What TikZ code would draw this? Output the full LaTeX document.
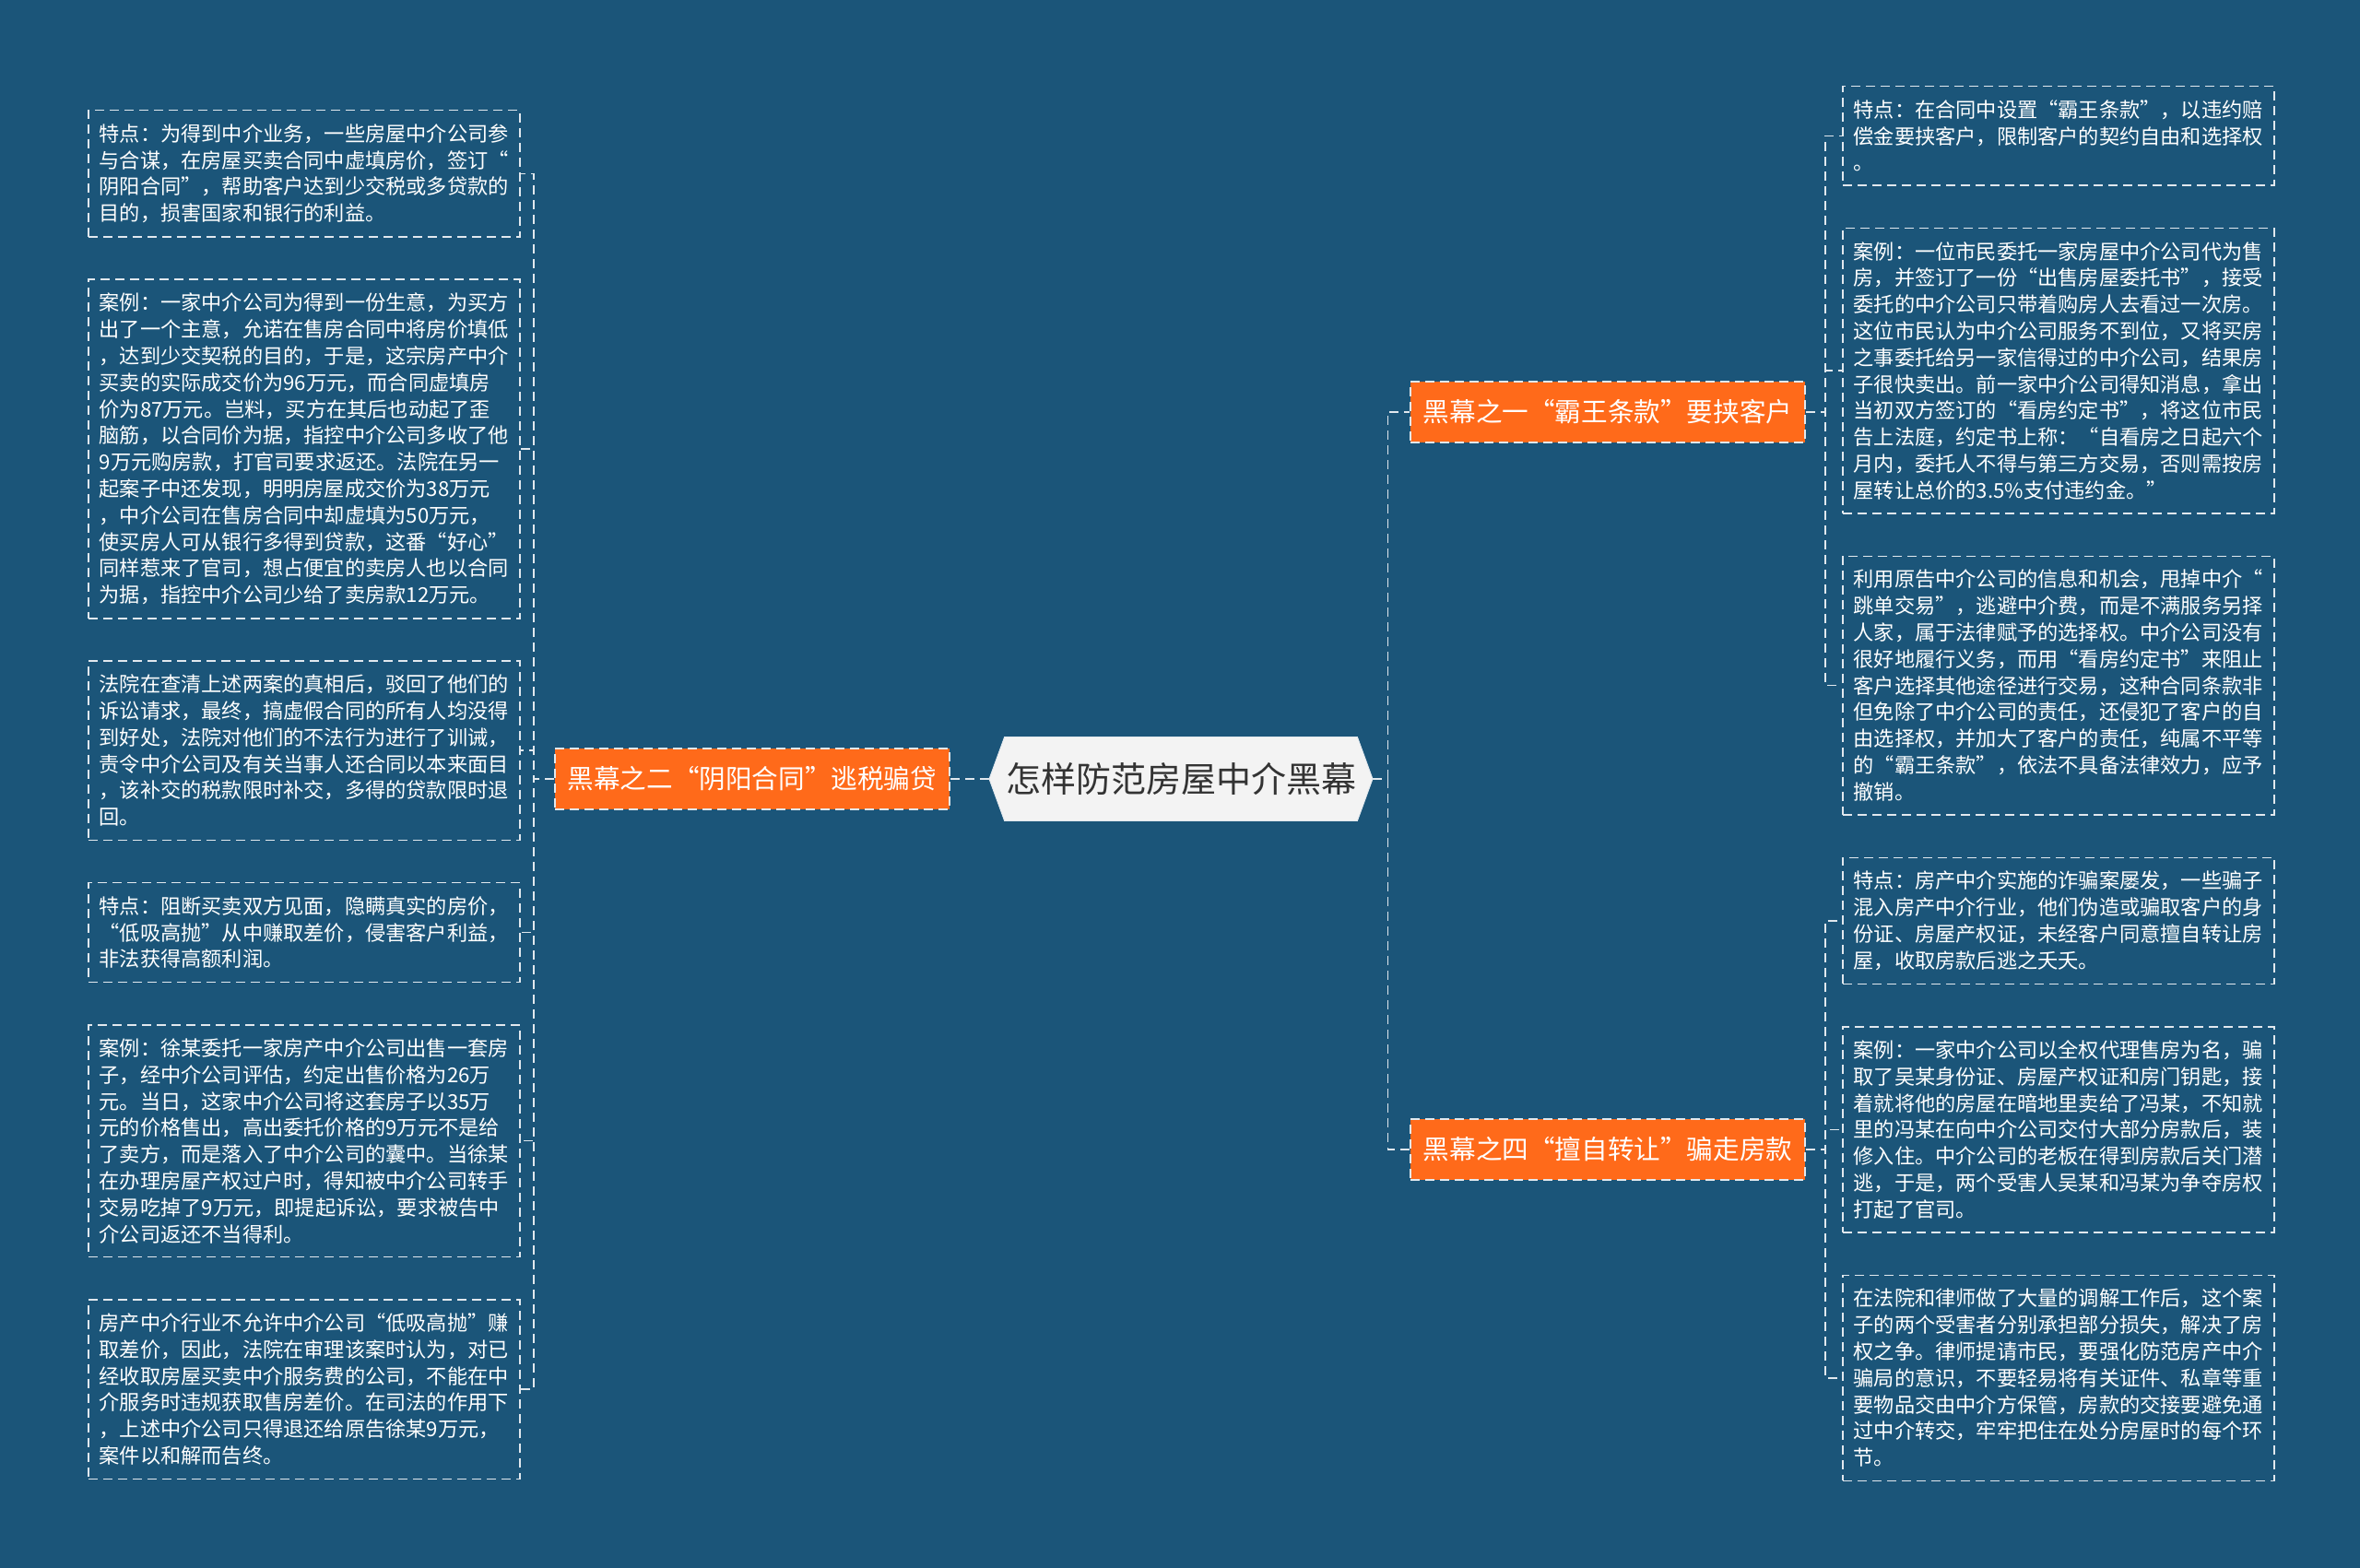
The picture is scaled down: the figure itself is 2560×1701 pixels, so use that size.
\documentclass[tikz,border=0pt]{standalone}
\usepackage{fontspec}
\setmainfont{Noto Sans CJK SC}
\usetikzlibrary{positioning, shapes.symbols}
\definecolor{MapBack}{RGB}{27, 85, 121}
\definecolor{MapOrange}{RGB}{255, 106, 26}
\definecolor{MapRoot}{RGB}{243, 243, 243}
\definecolor{MapInk}{RGB}{51, 51, 51}
\definecolor{MapLine}{RGB}{225, 232, 238}

\begin{document}
\begin{tikzpicture}[
        x=0.5pt, y=-0.5pt,
        node distance=22.4pt and 20pt,
        root/.style={signal, signal to=east and west, signal pointer angle=140, draw=MapLine, fill=MapRoot, minimum width=208pt, minimum height=45.5pt, inner sep=0pt, text=MapInk, font=\fontsize{19}{22}\selectfont},
        branch/.style={rectangle, draw=MapLine, dash pattern=on 5pt off 3pt, line width=0.75pt, fill=MapOrange, minimum width=214pt, minimum height=33pt, inner sep=0pt, text=white, font=\fontsize{14.3}{17}\selectfont},
        leaf/.style={rectangle, draw=MapLine, dash pattern=on 5pt off 3pt, line width=0.75pt, text width=222pt, inner xsep=6pt, inner ysep=7.4pt, align=left, text=white, font=\fontsize{11.1}{14.4}\selectfont},
        link/.style={draw=MapLine, dash pattern=on 5pt off 3pt, line width=0.75pt}
    ]

        % Background
        \fill[MapBack] (0,0) rectangle (2560,1701);
        \useasboundingbox (0,0) rectangle (2560,1701);

        % Nodes
        \node[root] (root) at (1281,845) {怎样防范房屋中介黑幕};
        \node[branch, left=21pt of root] (lb) {黑幕之二“阴阳合同”逃税骗贷};
        \node[branch] (b1) at (1744,447) {黑幕之一“霸王条款”要挟客户};
        \node[branch] (b2) at (1744,1247) {黑幕之四“擅自转让”骗走房款};

        % Left leaves
        \node[leaf, anchor=north west] (l1) at (95,119) {特点：为得到中介业务，一些房屋中介公司参\\与合谋，在房屋买卖合同中虚填房价，签订“\\阴阳合同”，帮助客户达到少交税或多贷款的\\目的，损害国家和银行的利益。};
        \node[leaf, below=of l1] (l2) {案例：一家中介公司为得到一份生意，为买方\\出了一个主意，允诺在售房合同中将房价填低\\，达到少交契税的目的，于是，这宗房产中介\\买卖的实际成交价为96万元，而合同虚填房\\价为87万元。岂料，买方在其后也动起了歪\\脑筋，以合同价为据，指控中介公司多收了他\\9万元购房款，打官司要求返还。法院在另一\\起案子中还发现，明明房屋成交价为38万元\\，中介公司在售房合同中却虚填为50万元，\\使买房人可从银行多得到贷款，这番“好心”\\同样惹来了官司，想占便宜的卖房人也以合同\\为据，指控中介公司少给了卖房款12万元。};
        \node[leaf, below=of l2] (l3) {法院在查清上述两案的真相后，驳回了他们的\\诉讼请求，最终，搞虚假合同的所有人均没得\\到好处，法院对他们的不法行为进行了训诫，\\责令中介公司及有关当事人还合同以本来面目\\，该补交的税款限时补交，多得的贷款限时退\\回。};
        \node[leaf, below=of l3] (l4) {特点：阻断买卖双方见面，隐瞒真实的房价，\\“低吸高抛”从中赚取差价，侵害客户利益，\\非法获得高额利润。};
        \node[leaf, below=of l4] (l5) {案例：徐某委托一家房产中介公司出售一套房\\子，经中介公司评估，约定出售价格为26万\\元。当日，这家中介公司将这套房子以35万\\元的价格售出，高出委托价格的9万元不是给\\了卖方，而是落入了中介公司的囊中。当徐某\\在办理房屋产权过户时，得知被中介公司转手\\交易吃掉了9万元，即提起诉讼，要求被告中\\介公司返还不当得利。};
        \node[leaf, below=of l5] (l6) {房产中介行业不允许中介公司“低吸高抛”赚\\取差价，因此，法院在审理该案时认为，对已\\经收取房屋买卖中介服务费的公司，不能在中\\介服务时违规获取售房差价。在司法的作用下\\，上述中介公司只得退还给原告徐某9万元，\\案件以和解而告终。};

        % Right leaves
        \node[leaf, anchor=north west] (r1) at (1998,93) {特点：在合同中设置“霸王条款”，以违约赔\\偿金要挟客户，限制客户的契约自由和选择权\\。};
        \node[leaf, below=of r1] (r2) {案例：一位市民委托一家房屋中介公司代为售\\房，并签订了一份“出售房屋委托书”，接受\\委托的中介公司只带着购房人去看过一次房。\\这位市民认为中介公司服务不到位，又将买房\\之事委托给另一家信得过的中介公司，结果房\\子很快卖出。前一家中介公司得知消息，拿出\\当初双方签订的“看房约定书”，将这位市民\\告上法庭，约定书上称：“自看房之日起六个\\月内，委托人不得与第三方交易，否则需按房\\屋转让总价的3.5\%支付违约金。”};
        \node[leaf, below=of r2] (r3) {利用原告中介公司的信息和机会，甩掉中介“\\跳单交易”，逃避中介费，而是不满服务另择\\人家，属于法律赋予的选择权。中介公司没有\\很好地履行义务，而用“看房约定书”来阻止\\客户选择其他途径进行交易，这种合同条款非\\但免除了中介公司的责任，还侵犯了客户的自\\由选择权，并加大了客户的责任，纯属不平等\\的“霸王条款”，依法不具备法律效力，应予\\撤销。};
        \node[leaf, below=of r3] (r4) {特点：房产中介实施的诈骗案屡发，一些骗子\\混入房产中介行业，他们伪造或骗取客户的身\\份证、房屋产权证，未经客户同意擅自转让房\\屋，收取房款后逃之夭夭。};
        \node[leaf, below=of r4] (r5) {案例：一家中介公司以全权代理售房为名，骗\\取了吴某身份证、房屋产权证和房门钥匙，接\\着就将他的房屋在暗地里卖给了冯某，不知就\\里的冯某在向中介公司交付大部分房款后，装\\修入住。中介公司的老板在得到房款后关门潜\\逃，于是，两个受害人吴某和冯某为争夺房权\\打起了官司。};
        \node[leaf, below=of r5] (r6) {在法院和律师做了大量的调解工作后，这个案\\子的两个受害者分别承担部分损失，解决了房\\权之争。律师提请市民，要强化防范房产中介\\骗局的意识，不要轻易将有关证件、私章等重\\要物品交由中介方保管，房款的交接要避免通\\过中介转交，牢牢把住在处分房屋时的每个环\\节。};

        % Links
        \draw[link] (root.west) -- (lb.east);
        \draw[link] (root.east) -- ++(16,0) |- (b1.west);
        \draw[link] (root.east) -- ++(16,0) |- (b2.west);
        \foreach \leaf in {l1,l2,l3,l4,l5,l6}
            \draw[link] (lb.west) -- ++(-22,0) |- (\leaf.east);
        \foreach \leaf in {r1,r2,r3}
            \draw[link] (b1.east) -- ++(21,0) |- (\leaf.west);
        \foreach \leaf in {r4,r5,r6}
            \draw[link] (b2.east) -- ++(21,0) |- (\leaf.west);

    \end{tikzpicture}
\end{document}
